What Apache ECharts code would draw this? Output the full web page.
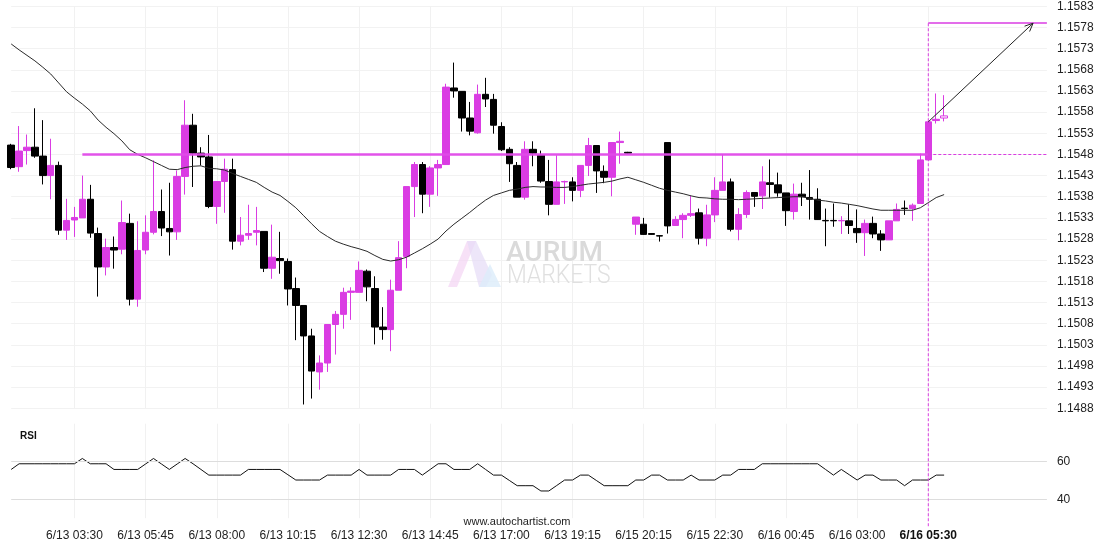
<!DOCTYPE html>
<html><head><meta charset="utf-8">
<script src="https://cdn.jsdelivr.net/npm/echarts@6/dist/echarts.min.js"></script>
<style>html,body{margin:0;padding:0;background:#fff}#c{width:1110px;height:550px}</style>
</head><body><div id="c"></div>
<script>
// ---- tick labels (every 9th slot, starting at slot 8) ----
const tickLabels = ['6/13 03:30','6/13 05:45','6/13 08:00','6/13 10:15','6/13 12:30','6/13 14:45','6/13 17:00','6/13 19:15','6/15 20:15','6/15 22:30','6/16 00:45','6/16 03:00','6/16 05:30'];
const FIRST_TICK = 8, TICK_STEP = 9, SLOT_COUNT = 132;
const yTickLabelsMin = 1.1488, yTickLabelsMax = 1.1583, yTickStep = 0.0005;

// ---- 15-min candles ----
const opens = [
1.15502,1.15451,1.15489,1.15497,1.15476,1.15430,1.15454,1.15301,1.15325,1.15330,
1.15374,1.15293,1.15214,1.15260,1.15256,1.15317,1.15138,1.15254,1.15296,1.15345,
1.15305,1.15297,1.15428,1.15549,1.15483,1.15474,1.15357,1.15416,1.15444,1.15275,
1.15289,1.15296,1.15298,1.15211,1.15234,1.15227,1.15163,1.15123,1.15051,1.14966,
1.14987,1.15078,1.15102,1.15154,1.15154,1.15204,1.15163,1.15072,1.15066,1.15159,
1.15239,1.15404,1.15456,1.15386,1.15448,1.15456,1.15637,1.15629,1.15566,1.15531,
1.15622,1.15610,1.15546,1.15492,1.15454,1.15379,1.15492,1.15478,1.15416,1.15362,
1.15415,1.15415,1.15395,1.15454,1.15501,1.15440,1.15426,1.15508,1.15485,1.15315,
1.15315,1.15293,1.15288,1.15508,1.15312,1.15326,1.15336,1.15342,1.15282,1.15337,
1.15395,1.15415,1.15303,1.15338,1.15390,1.15382,1.15413,1.15408,1.15389,1.15345,
1.15386,1.15378,1.15374,1.15324,1.15324,1.15323,1.15323,1.15305,1.15295,1.15317,
1.15292,1.15278,1.15323,1.15353,1.15352,1.15364,1.15467,1.15560,1.15566];
const closes = [
1.15449,1.15488,1.15497,1.15476,1.15430,1.15454,1.15301,1.15324,1.15331,1.15374,
1.15294,1.15214,1.15260,1.15254,1.15319,1.15138,1.15253,1.15296,1.15345,1.15306,
1.15297,1.15428,1.15549,1.15483,1.15474,1.15357,1.15416,1.15445,1.15275,1.15289,
1.15293,1.15300,1.15211,1.15237,1.15229,1.15162,1.15123,1.15051,1.14968,1.14987,
1.15078,1.15102,1.15154,1.15157,1.15206,1.15167,1.15072,1.15066,1.15159,1.15236,
1.15404,1.15456,1.15386,1.15448,1.15456,1.15639,1.15630,1.15566,1.15535,1.15622,
1.15611,1.15549,1.15491,1.15458,1.15379,1.15492,1.15483,1.15417,1.15362,1.15415,
1.15416,1.15395,1.15454,1.15501,1.15441,1.15426,1.15508,1.15511,1.15483,1.15332,
1.15291,1.15291,1.15287,1.15311,1.15326,1.15336,1.15340,1.15282,1.15337,1.15395,
1.15415,1.15303,1.15338,1.15390,1.15381,1.15415,1.15409,1.15389,1.15347,1.15386,
1.15380,1.15374,1.15326,1.15323,1.15323,1.15324,1.15312,1.15295,1.15317,1.15292,
1.15278,1.15323,1.15350,1.15352,1.15360,1.15467,1.15557,1.15563,1.15571];
const lows = [
1.15445,1.15439,1.15456,1.15472,1.15409,1.15374,1.15290,1.15278,1.15285,1.15330,
1.15283,1.15144,1.15194,1.15210,1.15244,1.15123,1.15120,1.15244,1.15291,1.15287,
1.15241,1.15278,1.15385,1.15403,1.15454,1.15353,1.15316,1.15342,1.15255,1.15265,
1.15278,1.15265,1.15202,1.15186,1.15198,1.15123,1.15041,1.14889,1.14903,1.14924,
1.14966,1.15007,1.15068,1.15089,1.15154,1.15133,1.15031,1.15042,1.15015,1.15159,
1.15211,1.15332,1.15341,1.15356,1.15382,1.15456,1.15614,1.15534,1.15525,1.15529,
1.15592,1.15529,1.15488,1.15415,1.15379,1.15373,1.15452,1.15413,1.15336,1.15362,
1.15363,1.15369,1.15379,1.15429,1.15389,1.15412,1.15381,1.15458,1.15482,1.15290,
1.15290,1.15290,1.15274,1.15293,1.15312,1.15282,1.15332,1.15267,1.15263,1.15320,
1.15395,1.15298,1.15277,1.15330,1.15356,1.15351,1.15378,1.15380,1.15311,1.15326,
1.15358,1.15326,1.15325,1.15263,1.15309,1.15292,1.15292,1.15271,1.15240,1.15282,
1.15252,1.15278,1.15323,1.15337,1.15323,1.15364,1.15465,1.15553,1.15558];
const highs = [
1.15505,1.15547,1.15527,1.15589,1.15561,1.15517,1.15463,1.15375,1.15356,1.15430,
1.15408,1.15307,1.15281,1.15286,1.15371,1.15340,1.15322,1.15336,1.15466,1.15397,
1.15413,1.15442,1.15608,1.15576,1.15497,1.15526,1.15416,1.15470,1.15470,1.15332,
1.15361,1.15356,1.15298,1.15314,1.15297,1.15234,1.15189,1.15123,1.15068,1.15005,
1.15078,1.15110,1.15165,1.15166,1.15227,1.15208,1.15192,1.15119,1.15184,1.15275,
1.15404,1.15462,1.15462,1.15452,1.15467,1.15647,1.15697,1.15629,1.15604,1.15645,
1.15661,1.15623,1.15556,1.15497,1.15462,1.15511,1.15511,1.15489,1.15467,1.15478,
1.15418,1.15426,1.15454,1.15519,1.15501,1.15454,1.15508,1.15534,1.15486,1.15332,
1.15330,1.15294,1.15289,1.15508,1.15334,1.15341,1.15382,1.15352,1.15361,1.15426,
1.15480,1.15423,1.15353,1.15395,1.15390,1.15452,1.15468,1.15437,1.15389,1.15411,
1.15413,1.15443,1.15400,1.15352,1.15364,1.15334,1.15362,1.15350,1.15326,1.15333,
1.15301,1.15323,1.15364,1.15371,1.15364,1.15482,1.15557,1.15624,1.15620];

// ---- moving average ----
const ma = [
1.15741,1.15727,1.15714,1.15701,1.15686,1.15670,1.15649,1.15628,1.15613,1.15599,
1.15583,1.15561,1.15544,1.15529,1.15512,1.15491,1.15480,1.15472,1.15463,1.15454,
1.15445,1.15444,1.15449,1.15452,1.15453,1.15447,1.15446,1.15443,1.15435,1.15428,
1.15421,1.15414,1.15402,1.15391,1.15383,1.15369,1.15354,1.15335,1.15316,1.15298,
1.15286,1.15275,1.15268,1.15262,1.15257,1.15251,1.15241,1.15232,1.15228,1.15231,
1.15237,1.15247,1.15257,1.15268,1.15280,1.15299,1.15315,1.15329,1.15343,1.15358,
1.15372,1.15383,1.15389,1.15395,1.15398,1.15402,1.15404,1.15403,1.15403,1.15402,
1.15402,1.15404,1.15407,1.15410,1.15412,1.15414,1.15417,1.15422,1.15426,1.15420,
1.15414,1.15407,1.15400,1.15395,1.15391,1.15387,1.15382,1.15378,1.15377,1.15375,
1.15374,1.15374,1.15373,1.15374,1.15375,1.15376,1.15377,1.15378,1.15379,1.15380,
1.15380,1.15376,1.15372,1.15370,1.15367,1.15365,1.15362,1.15359,1.15355,1.15351,
1.15348,1.15348,1.15348,1.15348,1.15348,1.15354,1.15366,1.15378,1.15385];

// ---- RSI ----
const rsi = [
55.8,58.8,58.8,58.8,58.8,58.8,58.8,58.8,58.8,61.6,58.8,58.8,58.8,55.8,55.8,55.8,55.8,
58.7,61.6,58.7,55.8,58.7,61.6,58.8,55.8,
52.8,52.8,52.8,52.8,52.8,55.8,55.8,55.8,55.8,55.8,53.0,50.2,50.2,50.2,50.2,
52.8,52.8,52.8,52.8,55.8,52.8,52.8,52.8,52.8,55.8,55.8,55.8,52.8,55.8,58.8,58.8,
55.8,55.8,55.8,58.8,55.8,52.8,52.8,50.0,47.2,47.2,47.2,44.4,44.4,47.3,50.2,50.2,
52.8,52.8,50.0,47.2,47.2,47.2,47.2,50.2,50.2,52.8,52.8,50.2,50.2,50.2,52.8,50.2,50.2,50.2,
52.8,52.8,55.8,55.8,55.8,58.8,58.8,58.8,58.8,58.8,58.8,58.8,58.8,55.8,52.8,55.8,53.0,50.2,
52.8,52.8,50.2,50.2,50.2,47.2,50.2,50.2,50.2,52.8,52.8];

// ---- pattern annotation values ----
const resistance = 1.1548, target = 1.1579;
const resistanceStart = 9, breakoutIndex = 116, arrowEndIndex = 129, arrowEndFrac = 0.25;
const rsiLevels = [40, 60];

const PINK = '#da3ce3', FONT = "'Liberation Sans', Arial, sans-serif";
const slots = Array.from({length: SLOT_COUNT}, (_, i) => String(i));
const isTick = (i) => i >= FIRST_TICK && i <= breakoutIndex && (i - FIRST_TICK) % TICK_STEP === 0;

const candleData = opens.map((o, i) => {
  const item = {value: [o, closes[i], lows[i], highs[i]]};
  if (i === opens.length - 1) item.itemStyle = {color: '#ffffff', borderColor: PINK};
  return item;
});

const chart = echarts.init(document.getElementById('c'));
const gridL = 11.2, gridR = 63.1;
const option = {
  animation: false,
  backgroundColor: '#ffffff',
  textStyle: {fontFamily: FONT},
  grid: [
    {left: gridL, right: gridR, top: 6.3, height: 402},
    {left: gridL, right: gridR, top: 423.7, height: 94.5}
  ],
  xAxis: [
    {type: 'category', gridIndex: 0, data: slots, boundaryGap: false,
     axisLine: {show: false}, axisTick: {show: false}, axisLabel: {show: false},
     splitLine: {show: true, interval: (i) => isTick(i), lineStyle: {color: '#f1f1f1', width: 1}}},
    {type: 'category', gridIndex: 1, data: slots, boundaryGap: false,
     axisLine: {show: false}, axisTick: {show: false},
     axisLabel: {interval: (i) => isTick(i), margin: 11, color: '#222', fontSize: 12, fontFamily: FONT,
       formatter: (v, i) => {
         const k = (i - FIRST_TICK) / TICK_STEP;
         const t = tickLabels[k] || '';
         return i === breakoutIndex ? '{b|' + t + '}' : t;
       },
       rich: {b: {fontWeight: 'bold', fontSize: 12, color: '#111', fontFamily: FONT}}},
     splitLine: {show: true, interval: (i) => isTick(i), lineStyle: {color: '#f1f1f1', width: 1}}}
  ],
  yAxis: [
    {type: 'value', gridIndex: 0, position: 'right', min: yTickLabelsMin, max: yTickLabelsMax, interval: yTickStep,
     axisLine: {show: false}, axisTick: {show: false},
     axisLabel: {formatter: (v) => v.toFixed(4), margin: 10, color: '#222', fontSize: 12, fontFamily: FONT},
     splitLine: {show: true, lineStyle: {color: '#f2f2f2', width: 1}}},
    {type: 'value', gridIndex: 1, position: 'right', min: 30, max: 80, interval: 10,
     axisLine: {show: false}, axisTick: {show: false}, splitLine: {show: false},
     axisLabel: {formatter: (v) => (rsiLevels.indexOf(v) >= 0 ? String(v) : ''), margin: 10, color: '#222', fontSize: 12, fontFamily: FONT}}
  ],
  series: [
    {type: 'candlestick', xAxisIndex: 0, yAxisIndex: 0, data: candleData, barWidth: 7, clip: true,
     itemStyle: {color: PINK, color0: '#000000', borderColor: PINK, borderColor0: '#000000', borderWidth: 1},
     markLine: {silent: true, symbol: ['none', 'none'], label: {show: false}, animation: false,
       data: [
         [{coord: [resistanceStart, resistance], lineStyle: {color: '#e04ae8', width: 2.5, type: 'solid', opacity: 0.95}},
          {coord: [breakoutIndex, resistance]}],
         [{coord: [breakoutIndex, resistance], lineStyle: {color: PINK, width: 1, type: [3, 2]}},
          {coord: [SLOT_COUNT - 1, resistance]}],
         [{coord: [breakoutIndex, target], lineStyle: {color: PINK, width: 1.5, type: 'solid'}},
          {coord: [SLOT_COUNT - 1, target]}]
       ]}},
    {type: 'line', xAxisIndex: 0, yAxisIndex: 0, data: ma, symbol: 'none', silent: true,
     lineStyle: {color: '#2a2a2a', width: 1}},
    {type: 'line', xAxisIndex: 1, yAxisIndex: 1, data: rsi, symbol: 'none', silent: true,
     lineStyle: {color: '#111', width: 1},
     markLine: {silent: true, symbol: ['none', 'none'], label: {show: false}, animation: false,
       lineStyle: {color: '#dddddd', width: 1, type: 'solid'},
       data: rsiLevels.map(v => ({yAxis: v}))}}
  ]
};
chart.setOption(option);

// annotations positioned through the chart's own scales
const P = (g, i, v) => chart.convertToPixel({gridIndex: g}, [i, v]);
const [xb, yT] = P(0, breakoutIndex, target);
const yC = P(0, breakoutIndex, closes[breakoutIndex])[1];
const yBottom = P(1, breakoutIndex, 25)[1];
const xa = P(0, arrowEndIndex, target)[0], xa2 = P(0, arrowEndIndex + 1, target)[0];
const xe = xa + (xa2 - xa) * arrowEndFrac;
const ang = Math.atan2(yT - yC, xe - xb);
const HL = 9, SP = 0.42;
const head = [
  [xe - HL * Math.cos(ang - SP), yT - HL * Math.sin(ang - SP)],
  [xe, yT],
  [xe - HL * Math.cos(ang + SP), yT - HL * Math.sin(ang + SP)]
];

chart.setOption({graphic: [
  // watermark logo
  {type: 'polygon', silent: true, z: 0, shape: {points: [[448,287],[467,241],[476,241],[457,287]]}, style: {fill: '#f3d4f3', opacity: 0.7}},
  {type: 'polygon', silent: true, z: 0, shape: {points: [[467,241],[476,241],[492,275],[486,287],[479,287]]}, style: {fill: '#e6dcf7', opacity: 0.7}},
  {type: 'polygon', silent: true, z: 0, shape: {points: [[479,287],[490,264],[501,287]]}, style: {fill: '#dcecfa', opacity: 0.8}},
  {type: 'text', silent: true, z: 0, left: 506, top: 240, style: {text: 'AURUM', fill: '#dadada', font: "500 28px Roboto, 'Liberation Sans', sans-serif"}},
  {type: 'text', silent: true, z: 0, x: 507, y: 263, scaleX: 0.88, style: {text: 'MARKETS', fill: '#e0e0e0', font: "300 26px Roboto, 'Liberation Sans', sans-serif"}},
  // texts
  {type: 'text', silent: true, left: 20, top: 431, style: {text: 'RSI', fill: '#111', font: "bold 10px " + FONT}},
  {type: 'text', silent: true, x: 517, y: 522, style: {text: 'www.autochartist.com', fill: '#222', font: "11px " + FONT, align: 'center', verticalAlign: 'middle'}},
  // breakout vertical dashed line
  {type: 'line', silent: true, z: 50, shape: {x1: xb, y1: yT, x2: xb, y2: yBottom}, style: {stroke: PINK, lineWidth: 1, lineDash: [3, 2]}},
  // forecast arrow
  {type: 'line', silent: true, z: 50, shape: {x1: xb, y1: yC, x2: xe, y2: yT}, style: {stroke: '#222', lineWidth: 1}},
  {type: 'polyline', silent: true, z: 50, shape: {points: head}, style: {stroke: '#222', lineWidth: 1, fill: null}}
]});
</script>
</body></html>
